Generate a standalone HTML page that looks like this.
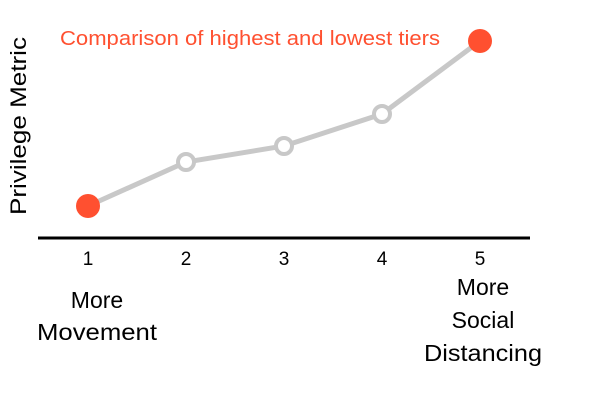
<!DOCTYPE html>
<html><head><meta charset="utf-8"><style>
body{margin:0;background:#fff;width:600px;height:400px;overflow:hidden;font-family:"Liberation Sans",sans-serif}
</style></head><body>
<svg id="chart" width="600" height="400" xmlns="http://www.w3.org/2000/svg">
<text x="60" y="45" fill="#ff5030" font-size="20" textLength="380" lengthAdjust="spacingAndGlyphs" font-family="Liberation Sans, sans-serif">Comparison of highest and lowest tiers</text>
<text transform="translate(26,126) rotate(-90)" text-anchor="middle" font-size="22" textLength="178" lengthAdjust="spacingAndGlyphs" fill="#000" font-family="Liberation Sans, sans-serif">Privilege Metric</text>
<line x1="38" y1="238" x2="530" y2="238" stroke="#000" stroke-width="3"/>
<g id="marks"></g>
<g font-size="23" text-anchor="middle" font-family="Liberation Sans, sans-serif">
<text x="97" y="308">More</text><text x="97" y="340" textLength="120" lengthAdjust="spacingAndGlyphs">Movement</text>
<text x="483" y="295">More</text><text x="483" y="328">Social</text><text x="483" y="361" textLength="118" lengthAdjust="spacingAndGlyphs">Distancing</text>
</g>
</svg>
<script>
const categories=["1","2","3","4","5"];
const values=[32,76,92,124,197];
const highlight=[true,false,false,false,true];
const NS="http://www.w3.org/2000/svg";
const g=document.getElementById("marks");
function xs(i){return 88+i*98;}
function ys(v){return 238-v;}
const line=document.createElementNS(NS,"polyline");


line.setAttribute("points",values.map((v,i)=>xs(i)+","+ys(v)).join(" "));
line.setAttribute("fill","none");line.setAttribute("stroke","#c8c8c8");line.setAttribute("stroke-width","5");
g.appendChild(line);
values.forEach((v,i)=>{
 const c=document.createElementNS(NS,"circle");
 
 
 c.setAttribute("cx",xs(i));c.setAttribute("cy",ys(v));
 if(highlight[i]){c.setAttribute("r","12");c.setAttribute("fill","#ff5030");}
 else{c.setAttribute("r","8");c.setAttribute("fill","#fff");c.setAttribute("stroke","#c8c8c8");c.setAttribute("stroke-width","4");}
 g.appendChild(c);
 const t=document.createElementNS(NS,"text");
 
 
 t.setAttribute("x",xs(i));t.setAttribute("y",265);t.setAttribute("text-anchor","middle");
 t.setAttribute("font-size","19");t.textContent=categories[i];
 g.appendChild(t);
});
</script>
</body></html>
